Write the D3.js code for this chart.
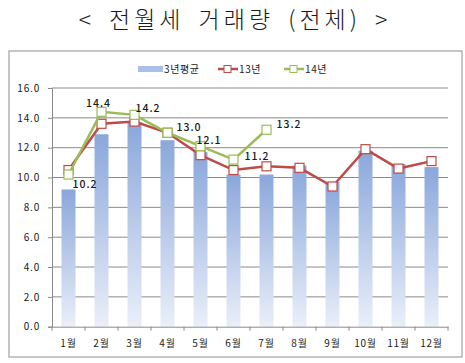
<!DOCTYPE html>
<html>
<head>
<meta charset="utf-8">
<script src="https://cdn.jsdelivr.net/npm/d3@7"></script>
<style>
  body { margin: 0; background: #fff; }
  svg text { font-family: "Noto Sans CJK KR", "Noto Sans", sans-serif; fill: #1a1a1a; }
</style>
</head>
<body>
<svg id="chart"></svg>
<script>
const months   = ['1월','2월','3월','4월','5월','6월','7월','8월','9월','10월','11월','12월'];
const avg3yr   = [9.2, 12.9, 13.7, 12.5, 11.7, 10.2, 10.2, 10.8, 9.7, 11.8, 10.9, 10.7];
const y2013    = [10.5, 13.6, 13.75, 13.0, 11.5, 10.5, 10.75, 10.65, 9.4, 11.9, 10.6, 11.1];
const y2014    = [10.2, 14.4, 14.2, 13.0, 12.1, 11.2, 13.2];
const yTicks   = [0, 2, 4, 6, 8, 10, 12, 14, 16];
// label offsets (dx, dy) for the 14년 values
const labelOffsets = [[4,13],[-3,-5],[1,-3],[9,-2],[-4,-2],[11,0],[10,-2]];

const W = 465, H = 363;
const margin = { top: 88, right: 17, bottom: 36, left: 52 };
const width  = W - margin.left - margin.right;
const height = 326.7 - margin.top;

const svg = d3.select('#chart').attr('width', W).attr('height', H);

// title
svg.append('text')
  .attr('x', 235).attr('y', 28)
  .attr('text-anchor', 'middle')
  .style('font-size', '23px')
  .style('letter-spacing', '4px')
  .style('word-spacing', '5px')
  .style('font-weight', '300')
  .text('< 전월세 거래량 (전체) >');

// outer frame
svg.append('rect')
  .attr('x', 9).attr('y', 51).attr('width', 453).attr('height', 306)
  .attr('fill', 'none').attr('stroke', '#a0a0a0').attr('stroke-width', 1.2);

const defs = svg.append('defs');
const grad = defs.append('linearGradient').attr('id', 'barGrad')
  .attr('x1', 0).attr('y1', 0).attr('x2', 0).attr('y2', 1);
grad.append('stop').attr('offset', '0%').attr('stop-color', '#8aa7db');
grad.append('stop').attr('offset', '100%').attr('stop-color', '#eaeff9');

const chart = svg.append('g').attr('transform', `translate(${margin.left},${margin.top})`);

const xb = d3.scaleBand().domain(months).range([0, width]);
const y = d3.scaleLinear().domain([0, 16]).range([height, 0]);
const cx = d => xb(d) + xb.bandwidth() / 2;

// gridlines
chart.append('g')
  .selectAll('line')
  .data(yTicks.filter(d => d > 0))
  .join('line')
  .attr('x1', 0).attr('x2', width)
  .attr('y1', d => y(d)).attr('y2', d => y(d))
  .attr('stroke', '#8a8a8a').attr('stroke-width', 1);

// bars
chart.append('g')
  .selectAll('rect')
  .data(avg3yr)
  .join('rect')
  .attr('x', (d, i) => cx(months[i]) - 7)
  .attr('width', 14)
  .attr('y', d => y(d))
  .attr('height', d => height - y(d))
  .attr('fill', 'url(#barGrad)');

// axes
const yAxis = chart.append('g')
  .call(d3.axisLeft(y).tickValues(yTicks).tickFormat(d3.format('.1f')).tickSize(4).tickPadding(8));
const xAxis = chart.append('g')
  .attr('transform', `translate(0,${height})`)
  .call(d3.axisBottom(xb).tickSize(0).tickPadding(13));
[yAxis, xAxis].forEach(a => {
  a.select('.domain').attr('stroke', '#8a8a8a');
  a.selectAll('.tick line').attr('stroke', '#8a8a8a');
  a.selectAll('text').style('font-size', '10px').style('letter-spacing', '0.8px').attr('fill', '#1a1a1a');
});
// x tick marks at band boundaries
chart.append('g')
  .selectAll('line')
  .data(d3.range(months.length + 1))
  .join('line')
  .attr('x1', i => i * xb.step()).attr('x2', i => i * xb.step())
  .attr('y1', height).attr('y2', height + 4)
  .attr('stroke', '#8a8a8a');

// lines
const line = d3.line().x((d, i) => cx(months[i])).y(d => y(d));
const series = [
  { name: '13년', values: y2013, color: '#be4b48' },
  { name: '14년', values: y2014, color: '#9bbb59' }
];
series.forEach(s => {
  chart.append('path')
    .datum(s.values)
    .attr('d', line)
    .attr('fill', 'none')
    .attr('stroke', s.color)
    .attr('stroke-width', 2.5);
  chart.append('g')
    .selectAll('rect')
    .data(s.values)
    .join('rect')
    .attr('x', (d, i) => cx(months[i]) - 4.5)
    .attr('y', d => y(d) - 4.5)
    .attr('width', 9).attr('height', 9)
    .attr('fill', '#fff')
    .attr('stroke', s.color)
    .attr('stroke-width', 1.2);
});

// 14년 value labels
chart.append('g')
  .selectAll('text')
  .data(y2014)
  .join('text')
  .attr('x', (d, i) => cx(months[i]) + labelOffsets[i][0])
  .attr('y', (d, i) => y(d) + labelOffsets[i][1])
  .attr('text-anchor', (d, i) => i === 1 ? 'middle' : 'start')
  .style('font-size', '10.5px')
  .style('font-weight', '500')
  .style('letter-spacing', '1px')
  .text(d => d3.format('.1f')(d));

// legend
const legend = svg.append('g').attr('transform', 'translate(0,69)');
legend.append('rect')
  .attr('x', 138).attr('y', -3).attr('width', 25).attr('height', 6)
  .attr('fill', '#a9bfe6');
legend.append('text').attr('x', 164).attr('y', 4).style('font-size', '10px').style('letter-spacing', '0.6px').text('3년평균');
const legItems = [{ x: 218, s: series[0] }, { x: 284, s: series[1] }];
legItems.forEach(it => {
  legend.append('line').attr('x1', it.x).attr('x2', it.x + 20).attr('y1', 0).attr('y2', 0)
    .attr('stroke', it.s.color).attr('stroke-width', 2.5);
  legend.append('rect').attr('x', it.x + 6).attr('y', -3.5).attr('width', 7).attr('height', 7)
    .attr('fill', '#fff').attr('stroke', it.s.color);
  legend.append('text').attr('x', it.x + 21).attr('y', 4).style('font-size', '10px').style('letter-spacing', '0.6px').text(it.s.name);
});
</script>
</body>
</html>
